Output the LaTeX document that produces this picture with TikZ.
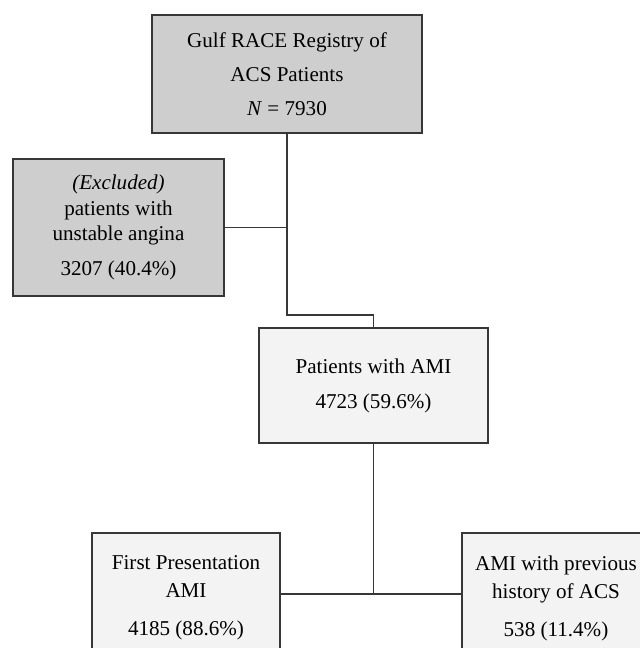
\documentclass[tikz,border=0pt]{standalone}
\usepackage{fontspec}
\setmainfont{Liberation Serif}
\usepackage{xcolor}
\usetikzlibrary{positioning,calc}
\definecolor{boxgray}{RGB}{206,206,206}
\definecolor{boxlight}{RGB}{243,243,243}
\definecolor{linegray}{RGB}{55,55,55}

\begin{document}
\begin{tikzpicture}[
		box/.style={rectangle, draw=linegray, line width=0.9pt, align=center, inner sep=0pt, font=\fontsize{12}{14.5}\selectfont},
		conn/.style={draw=linegray, line width=0.9pt}
	]
				\useasboundingbox (0,0) rectangle (12.8,-12.96);
				\clip (0,0) rectangle (12.8,-12.96);
				% Registro
				\node[box, fill=boxgray, minimum width=5.4cm, minimum height=2.36cm] (reg) at (5.74,-1.48) {Gulf RACE Registry of\\[0.17cm] ACS Patients\\[0.17cm] \textit{N} = 7930};
				\node[box, fill=boxgray, minimum width=4.22cm, minimum height=2.74cm] (excl) at (2.37,-4.55) {\textit{(Excluded)}\\ patients with\\ unstable angina\\[0.19cm] 3207 (40.4\%)};
				
				% AMI
				\node[box, fill=boxlight, minimum width=4.58cm, minimum height=2.3cm] (ami) at (7.47,-7.71) {Patients with AMI\\[0.19cm] 4723 (59.6\%)};
				\node[box, fill=boxlight, minimum width=3.76cm, minimum height=2.6cm] (first) at (3.72,-11.96) {First Presentation\\[0.05cm] AMI\\[0.25cm] 4185 (88.6\%)};
				\node[box, fill=boxlight, minimum width=3.76cm, minimum height=2.6cm] (prev) at (11.12,-11.96) {AMI with previous\\[0.05cm] history of ACS\\[0.25cm] 538 (11.4\%)};
				
				\coordinate (bend) at ($(reg.south)+(0,-3.62)$);
				\coordinate (split) at ($(ami.south)+(0,-3.0)$);
				
				\draw[conn] (reg.south) -- (bend) -| (ami.north);
				\draw[conn] (excl.east) -- (excl.east -| reg.south);
				\draw[conn] (ami.south) -- (split);
				\draw[conn] (first.east |- split) -- (prev.west |- split);
			\end{tikzpicture}
\end{document}
